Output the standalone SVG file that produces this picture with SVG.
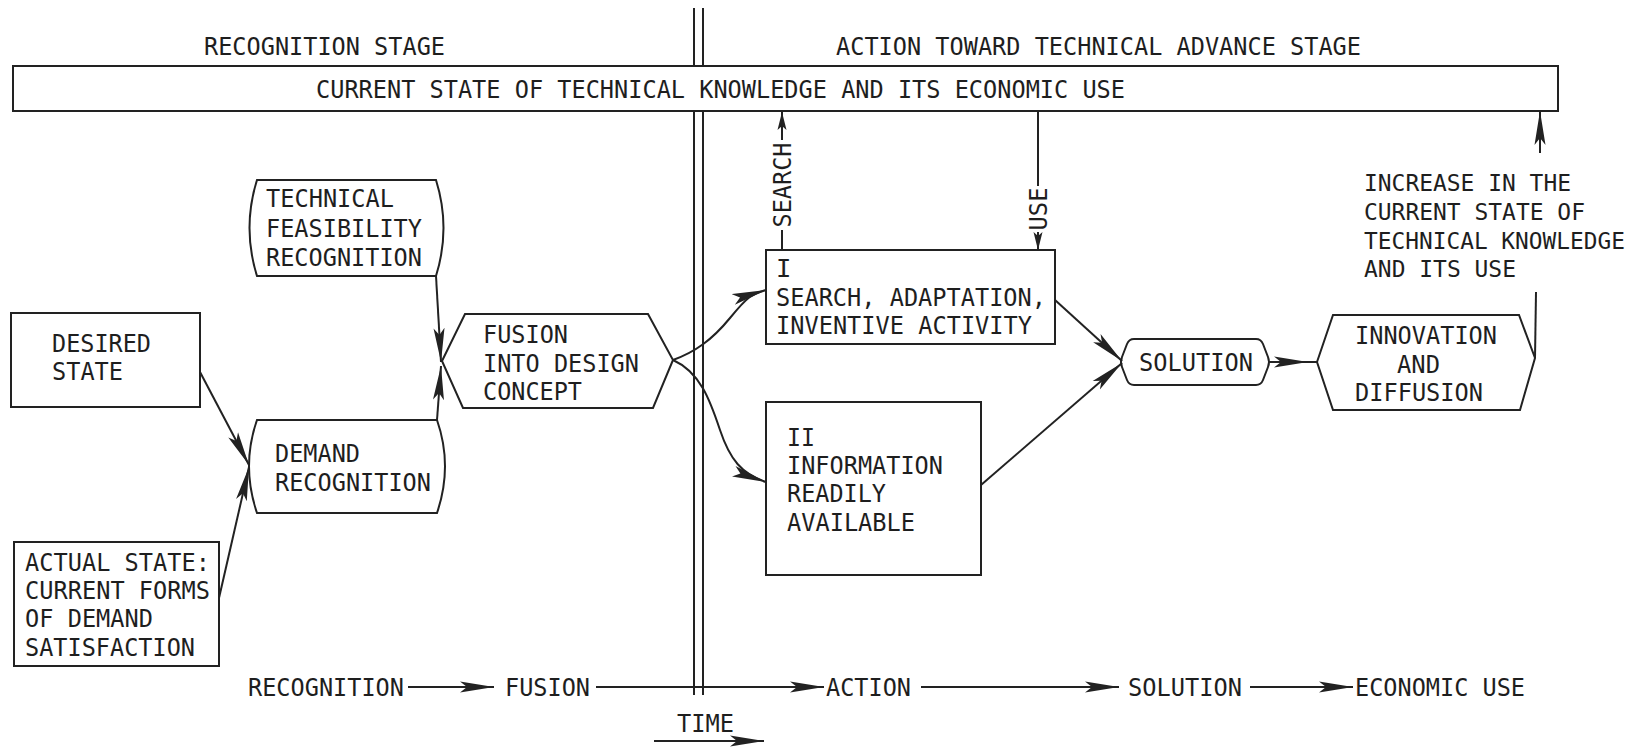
<svg xmlns="http://www.w3.org/2000/svg" width="1641" height="749" viewBox="0 0 1641 749">
<defs>
<style>
text{font-family:"DejaVu Sans Mono","Liberation Mono",monospace;font-size:25.5px;fill:#1e1e1e;}
.sm{font-size:23.6px;}
.s{fill:#fff;stroke:#222;stroke-width:2;}
.c{fill:none;stroke:#222;stroke-width:2;}
.ca{fill:none;stroke:#222;stroke-width:2;marker-end:url(#ah);}
.cs{fill:none;stroke:#222;stroke-width:2;marker-end:url(#ahs);}
</style>
<marker id="ah" markerUnits="userSpaceOnUse" markerWidth="36" markerHeight="14" refX="34" refY="7" orient="auto"><path d="M0,1.5 L34,7 L0,12.5 L7,7 z" fill="#222"/></marker>
<marker id="ahs" markerUnits="userSpaceOnUse" markerWidth="20" markerHeight="12" refX="18" refY="6" orient="auto"><path d="M0,1.5 L18,6 L0,10.5 L4,6 z" fill="#222"/></marker>
</defs>
<rect width="1641" height="749" fill="#fff"/>

<g id="stage-labels">
<text x="204" y="55" textLength="241" lengthAdjust="spacingAndGlyphs">RECOGNITION STAGE</text>
<text x="836" y="55" textLength="525" lengthAdjust="spacingAndGlyphs">ACTION TOWARD TECHNICAL ADVANCE STAGE</text>
</g>

<g id="divider">
<line class="c" x1="694" y1="8" x2="694" y2="66"/>
<line class="c" x1="703" y1="8" x2="703" y2="66"/>
<line class="c" x1="694" y1="111" x2="694" y2="695"/>
<line class="c" x1="703" y1="111" x2="703" y2="695"/>
</g>

<g id="knowledge">
<rect class="s" x="13" y="66" width="1545" height="45"/>
<text x="316" y="98" textLength="809" lengthAdjust="spacingAndGlyphs">CURRENT STATE OF TECHNICAL KNOWLEDGE AND ITS ECONOMIC USE</text>
</g>

<g id="desired-state">
<rect class="s" x="11" y="313" width="189" height="94"/>
<text x="52" y="352" textLength="99" lengthAdjust="spacingAndGlyphs">DESIRED</text>
<text x="52" y="380" textLength="71" lengthAdjust="spacingAndGlyphs">STATE</text>
</g>

<g id="actual-state">
<rect class="s" x="14" y="542" width="205" height="124"/>
<text x="25" y="571" textLength="185" lengthAdjust="spacingAndGlyphs">ACTUAL STATE:</text>
<text x="25" y="599" textLength="185" lengthAdjust="spacingAndGlyphs">CURRENT FORMS</text>
<text x="25" y="627" textLength="128" lengthAdjust="spacingAndGlyphs">OF DEMAND</text>
<text x="25" y="656" textLength="170" lengthAdjust="spacingAndGlyphs">SATISFACTION</text>
</g>

<g id="technical-feasibility">
<path class="s" d="M257,180 L436,180 Q451,228 436,276 L257,276 Q242,228 257,180 Z"/>
<text x="266" y="207" textLength="128" lengthAdjust="spacingAndGlyphs">TECHNICAL</text>
<text x="266" y="237" textLength="156" lengthAdjust="spacingAndGlyphs">FEASIBILITY</text>
<text x="266" y="266" textLength="156" lengthAdjust="spacingAndGlyphs">RECOGNITION</text>
</g>

<g id="demand-recognition">
<path class="s" d="M257,420 L437,420 Q453,466 437,513 L257,513 Q241,466 257,420 Z"/>
<text x="275" y="462" textLength="85" lengthAdjust="spacingAndGlyphs">DEMAND</text>
<text x="275" y="491" textLength="156" lengthAdjust="spacingAndGlyphs">RECOGNITION</text>
</g>

<g id="fusion">
<path class="s" d="M442,361 L465,314 L648,314 L673,360 L653,408 L463,408 Z"/>
<text x="483" y="343" textLength="85" lengthAdjust="spacingAndGlyphs">FUSION</text>
<text x="483" y="372" textLength="156" lengthAdjust="spacingAndGlyphs">INTO DESIGN</text>
<text x="483" y="400" textLength="99" lengthAdjust="spacingAndGlyphs">CONCEPT</text>
</g>

<g id="search-box">
<rect class="s" x="766" y="250" width="289" height="94"/>
<text x="776" y="277">I</text>
<text x="776" y="306" textLength="270" lengthAdjust="spacingAndGlyphs">SEARCH, ADAPTATION,</text>
<text x="776" y="334" textLength="256" lengthAdjust="spacingAndGlyphs">INVENTIVE ACTIVITY</text>
</g>

<g id="information-box">
<rect class="s" x="766" y="402" width="215" height="173"/>
<text x="787" y="446" textLength="28" lengthAdjust="spacingAndGlyphs">II</text>
<text x="787" y="474" textLength="156" lengthAdjust="spacingAndGlyphs">INFORMATION</text>
<text x="787" y="502" textLength="99" lengthAdjust="spacingAndGlyphs">READILY</text>
<text x="787" y="531" textLength="128" lengthAdjust="spacingAndGlyphs">AVAILABLE</text>
</g>

<g id="solution">
<path class="s" d="M1134,339 L1256,339 Q1261,339 1263,344 L1268,357 Q1270,362 1268,367 L1263,380 Q1261,385 1256,385 L1134,385 Q1129,385 1127,380 L1122,367 Q1120,362 1122,357 L1127,344 Q1129,339 1134,339 Z"/>
<text x="1139" y="371" textLength="114" lengthAdjust="spacingAndGlyphs">SOLUTION</text>
</g>

<g id="innovation">
<path class="s" d="M1317,362 L1333,315 L1519,315 L1535,358 L1520,410 L1333,410 Z"/>
<text x="1355" y="344" textLength="142" lengthAdjust="spacingAndGlyphs">INNOVATION</text>
<text x="1397" y="373" textLength="43" lengthAdjust="spacingAndGlyphs">AND</text>
<text x="1355" y="401" textLength="128" lengthAdjust="spacingAndGlyphs">DIFFUSION</text>
</g>

<g id="increase-label">
<text class="sm" x="1364" y="191" textLength="207" lengthAdjust="spacingAndGlyphs">INCREASE IN THE</text>
<text class="sm" x="1364" y="220" textLength="221" lengthAdjust="spacingAndGlyphs">CURRENT STATE OF</text>
<text class="sm" x="1364" y="249" textLength="261" lengthAdjust="spacingAndGlyphs">TECHNICAL KNOWLEDGE</text>
<text class="sm" x="1364" y="277" textLength="152" lengthAdjust="spacingAndGlyphs">AND ITS USE</text>
</g>

<g id="timeline">
<text x="248" y="696" textLength="156" lengthAdjust="spacingAndGlyphs">RECOGNITION</text>
<text x="505" y="696" textLength="85" lengthAdjust="spacingAndGlyphs">FUSION</text>
<text x="826" y="696" textLength="85" lengthAdjust="spacingAndGlyphs">ACTION</text>
<text x="1128" y="696" textLength="114" lengthAdjust="spacingAndGlyphs">SOLUTION</text>
<text x="1355" y="696" textLength="170" lengthAdjust="spacingAndGlyphs">ECONOMIC USE</text>
<text x="677" y="732" textLength="57" lengthAdjust="spacingAndGlyphs">TIME</text>
</g>

<g id="connectors">
<line class="ca" x1="200" y1="372" x2="249" y2="465"/>
<line class="ca" x1="219" y1="598" x2="249" y2="467"/>
<line class="ca" x1="436" y1="276" x2="441" y2="362"/>
<line class="ca" x1="437" y1="420" x2="441" y2="366"/>
<path class="ca" d="M673,360 C695,352 712,340 730,318 S752,294 766,290"/>
<path class="ca" d="M673,360 C700,372 710,400 720,430 S742,474 766,482"/>
<line class="ca" x1="1055" y1="300" x2="1122" y2="361"/>
<line class="ca" x1="981" y1="485" x2="1122" y2="363"/>
<line class="c" x1="1268" y1="362" x2="1317" y2="362"/>
<line class="ca" x1="1268" y1="362" x2="1308" y2="362"/>
<line class="c" x1="1535" y1="358" x2="1536" y2="292"/>
<line class="ca" x1="1540" y1="153" x2="1540" y2="111"/>
<line class="c" x1="782" y1="250" x2="782" y2="230"/>
<line class="cs" x1="782" y1="140" x2="782" y2="112"/>
<line class="c" x1="1038" y1="111" x2="1038" y2="186"/>
<line class="cs" x1="1038" y1="232" x2="1038" y2="250"/>
<line class="ca" x1="408" y1="687" x2="494" y2="687"/>
<line class="ca" x1="596" y1="687" x2="824" y2="687"/>
<line class="ca" x1="921" y1="687" x2="1119" y2="687"/>
<line class="ca" x1="1250" y1="687" x2="1353" y2="687"/>
<line class="ca" x1="654" y1="741" x2="764" y2="741"/>
<text transform="translate(791,185) rotate(-90)" text-anchor="middle" x="0" y="0" textLength="85" lengthAdjust="spacingAndGlyphs">SEARCH</text>
<text transform="translate(1047,209) rotate(-90)" text-anchor="middle" x="0" y="0" textLength="43" lengthAdjust="spacingAndGlyphs">USE</text>
</g>
</svg>
